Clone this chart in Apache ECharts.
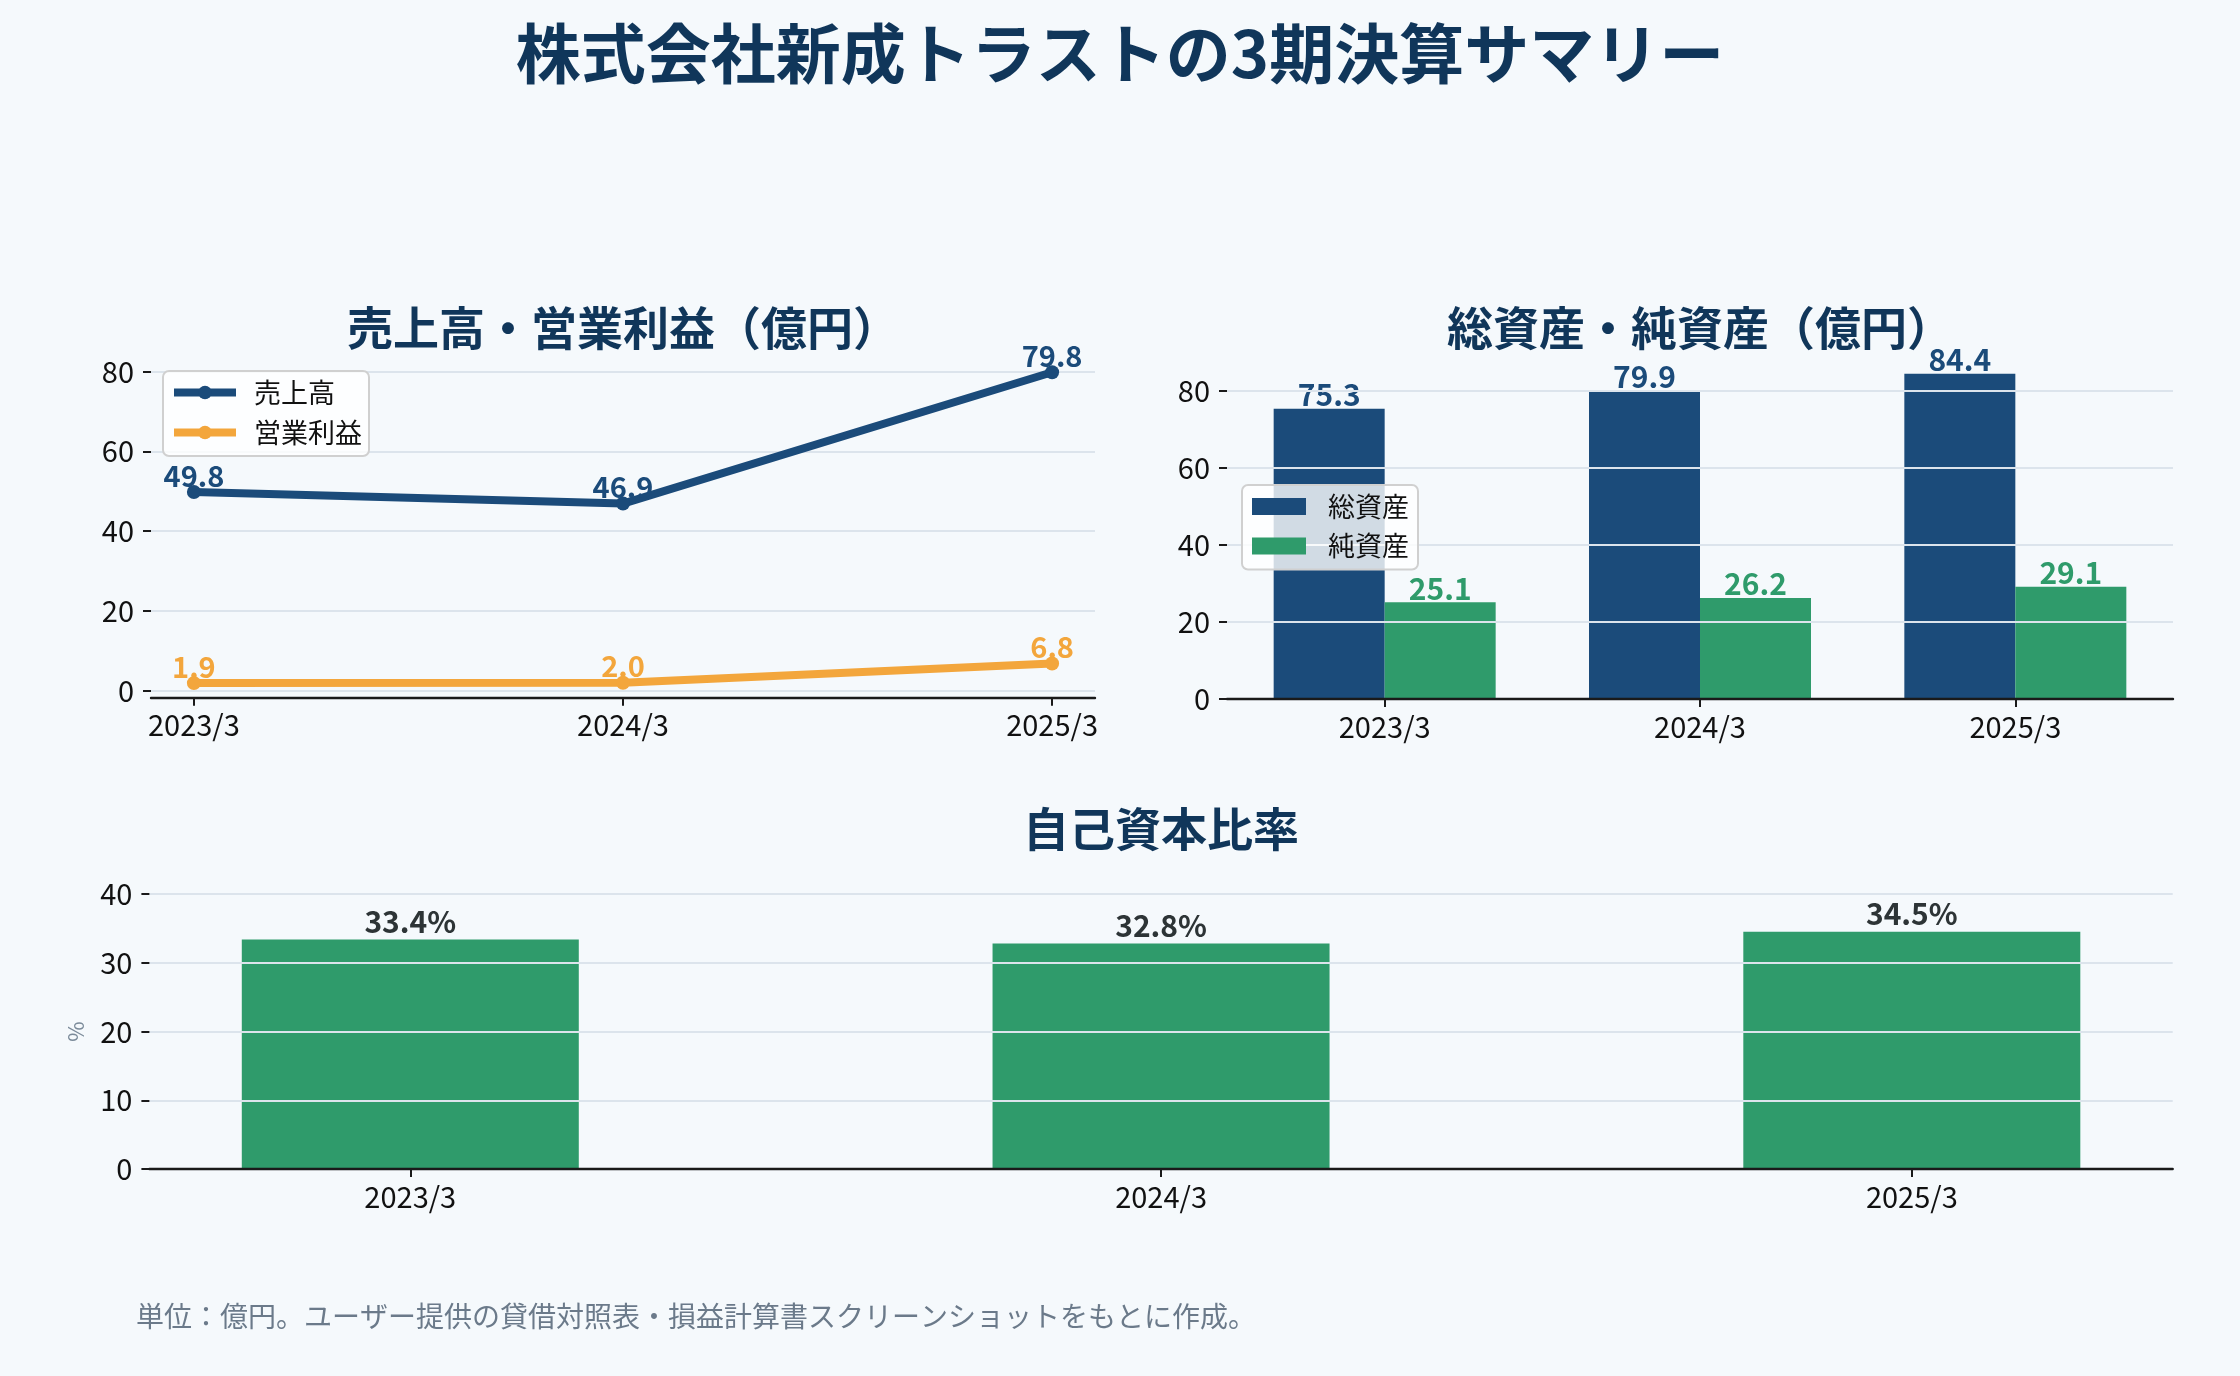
<!DOCTYPE html>
<html><head><meta charset="utf-8">
<script src="https://cdn.jsdelivr.net/npm/echarts@6/dist/echarts.min.js"></script>
<style>html,body{margin:0;padding:0;background:#f5f9fc;}#c{width:2240px;height:1376px;}</style>
</head><body><div id="c"></div>
<script>
// ---- data ----
const periods = ['2023/3', '2024/3', '2025/3'];
const salesName = '売上高';
const opName = '営業利益';
const sales = [49.8, 46.9, 79.8];
const opProfit = [1.9, 2.0, 6.8];
const totalName = '総資産';
const netName = '純資産';
const totalAssets = [75.3, 79.9, 84.4];
const netAssets = [25.1, 26.2, 29.1];
const ratioValues = [33.4, 32.8, 34.5];
const mainTitle = '株式会社新成トラストの3期決算サマリー';
const plTitle = '売上高・営業利益（億円）';
const bsTitle = '総資産・純資産（億円）';
const ratioTitle = '自己資本比率';
const footNote = '単位：億円。ユーザー提供の貸借対照表・損益計算書スクリーンショットをもとに作成。';

// ---- style ----
const FONT = '"Noto Sans CJK JP", "Noto Sans", sans-serif';
const NAVY = '#1b4b7a', ORANGE = '#f3a63c', GREEN = '#2f9b6b', TITLE = '#10365a';
const GRIDC = '#dce4ec', AXC = '#1a1a1a', TXT = '#111111';

const idx = periods.map((_, i) => i);
const pairs = arr => arr.map((v, i) => [idx[i], v]);

const chart = echarts.init(document.getElementById('c'), null, {renderer: 'canvas'});

const tickLbl = {fontSize: 29, color: TXT, fontFamily: FONT};
function yAx(grid, max, interval, extra) {
  return Object.assign({
    type: 'value', gridIndex: grid, min: 0, max: max, interval: interval,
    axisLine: {show: false, onZero: false},
    axisTick: {show: true, length: 8, lineStyle: {color: AXC, width: 2}},
    axisLabel: Object.assign({margin: 17}, tickLbl),
    splitLine: {show: true, lineStyle: {color: GRIDC, width: 2}}
  }, extra || {});
}
const axLine = {show: true, onZero: false, lineStyle: {color: AXC, width: 2.4}};

chart.setOption({
  animation: false,
  backgroundColor: '#f5f9fc',
  textStyle: {fontFamily: FONT},
  graphic: [
    {type: 'text', x: 1120, y: 53, style: {text: mainTitle, font: 'bold 65px ' + FONT, fill: TITLE, align: 'center', verticalAlign: 'middle'}},
    {type: 'text', x: 623, y: 328, style: {text: plTitle, font: 'bold 46px ' + FONT, fill: TITLE, align: 'center', verticalAlign: 'middle'}},
    {type: 'text', x: 1700, y: 328, style: {text: bsTitle, font: 'bold 46px ' + FONT, fill: TITLE, align: 'center', verticalAlign: 'middle'}},
    {type: 'text', x: 1161, y: 829, style: {text: ratioTitle, font: 'bold 46px ' + FONT, fill: TITLE, align: 'center', verticalAlign: 'middle'}},
    {type: 'text', x: 136, y: 1316, style: {text: footNote, font: '28px ' + FONT, fill: '#6b7a8a', align: 'left', verticalAlign: 'middle'}}
  ],
  grid: [
    {left: 151, top: 371.5, width: 944, height: 319.2},
    {left: 1227, top: 390.7, width: 946, height: 308.3},
    {left: 149.4, top: 894, width: 2023.3, height: 275}
  ],
  xAxis: [
    {type: 'value', gridIndex: 0, min: -0.1, max: 2.1, offset: 7, z: 5,
     axisLine: axLine,
     axisTick: {show: true, customValues: idx, length: 8, lineStyle: {color: AXC, width: 2}},
     axisLabel: Object.assign({customValues: idx, margin: 13, formatter: v => periods[Math.round(v)]}, tickLbl),
     splitLine: {show: false}},
    {type: 'category', gridIndex: 1, data: periods, boundaryGap: true, z: 5,
     axisLine: axLine,
     axisTick: {show: true, alignWithLabel: true, length: 8, lineStyle: {color: AXC, width: 2}},
     axisLabel: Object.assign({margin: 13}, tickLbl)},
    {type: 'value', gridIndex: 2, min: -0.3475, max: 2.3475, z: 5,
     axisLine: axLine,
     axisTick: {show: true, customValues: idx, length: 8, lineStyle: {color: AXC, width: 2}},
     axisLabel: Object.assign({customValues: idx, margin: 13, formatter: v => periods[Math.round(v)]}, tickLbl),
     splitLine: {show: false}}
  ],
  yAxis: [
    yAx(0, 80, 20),
    yAx(1, 80, 20, {z: 3}),
    yAx(2, 40, 10, {z: 3, name: '%', nameLocation: 'middle', nameRotate: 90, nameGap: 63,
      nameTextStyle: {fontSize: 22, color: '#7b8b9a', fontFamily: FONT}})
  ],
  legend: [
    {data: [salesName, opName], orient: 'vertical', left: 163, top: 371,
     itemWidth: 62, itemHeight: 17, itemGap: 13, padding: [8, 7, 10, 7],
     lineStyle: {width: 8},
     backgroundColor: 'rgba(255,255,255,0.8)', borderColor: '#d0d0d0', borderWidth: 2, borderRadius: 6,
     textStyle: {fontSize: 27, color: TXT, fontFamily: FONT, padding: [0, 0, 0, 13]}},
    {data: [totalName, netName], orient: 'vertical', left: 1242, top: 485,
     itemWidth: 54, itemHeight: 17, itemGap: 12.5, padding: [8, 9, 10, 10], icon: 'rect',
     backgroundColor: 'rgba(255,255,255,0.8)', borderColor: '#d0d0d0', borderWidth: 2, borderRadius: 6,
     textStyle: {fontSize: 27, color: TXT, fontFamily: FONT, padding: [0, 0, 0, 17]}}
  ],
  series: [
    {name: salesName, type: 'line', xAxisIndex: 0, yAxisIndex: 0, data: pairs(sales), clip: false,
     symbol: 'circle', symbolSize: 14, lineStyle: {color: NAVY, width: 8}, itemStyle: {color: NAVY},
     label: {show: true, position: 'top', distance: -5, formatter: p => p.value[1].toFixed(1),
       fontSize: 29, fontWeight: 'bold', color: NAVY, fontFamily: FONT}},
    {name: opName, type: 'line', xAxisIndex: 0, yAxisIndex: 0, data: pairs(opProfit), clip: false,
     symbol: 'circle', symbolSize: 14, lineStyle: {color: ORANGE, width: 8}, itemStyle: {color: ORANGE},
     label: {show: true, position: 'top', distance: -5, formatter: p => p.value[1].toFixed(1),
       fontSize: 29, fontWeight: 'bold', color: ORANGE, fontFamily: FONT}},
    {name: totalName, type: 'bar', xAxisIndex: 1, yAxisIndex: 1, data: totalAssets, clip: false,
     barWidth: 111, barGap: '0%', itemStyle: {color: NAVY},
     label: {show: true, position: 'top', distance: -1, formatter: p => p.value.toFixed(1),
       fontSize: 30, fontWeight: 'bold', color: NAVY, fontFamily: FONT}},
    {name: netName, type: 'bar', xAxisIndex: 1, yAxisIndex: 1, data: netAssets, clip: false,
     barWidth: 111, barGap: '0%', itemStyle: {color: GREEN},
     label: {show: true, position: 'top', distance: -1, formatter: p => p.value.toFixed(1),
       fontSize: 30, fontWeight: 'bold', color: GREEN, fontFamily: FONT}},
    {name: ratioTitle, type: 'bar', xAxisIndex: 2, yAxisIndex: 2, data: pairs(ratioValues),
     barWidth: 337, itemStyle: {color: GREEN},
     label: {show: true, position: 'top', distance: 3, formatter: p => p.value[1].toFixed(1) + '%',
       fontSize: 30, fontWeight: 'bold', color: '#2d3436', fontFamily: FONT}}
  ]
});
</script>
</body></html>
